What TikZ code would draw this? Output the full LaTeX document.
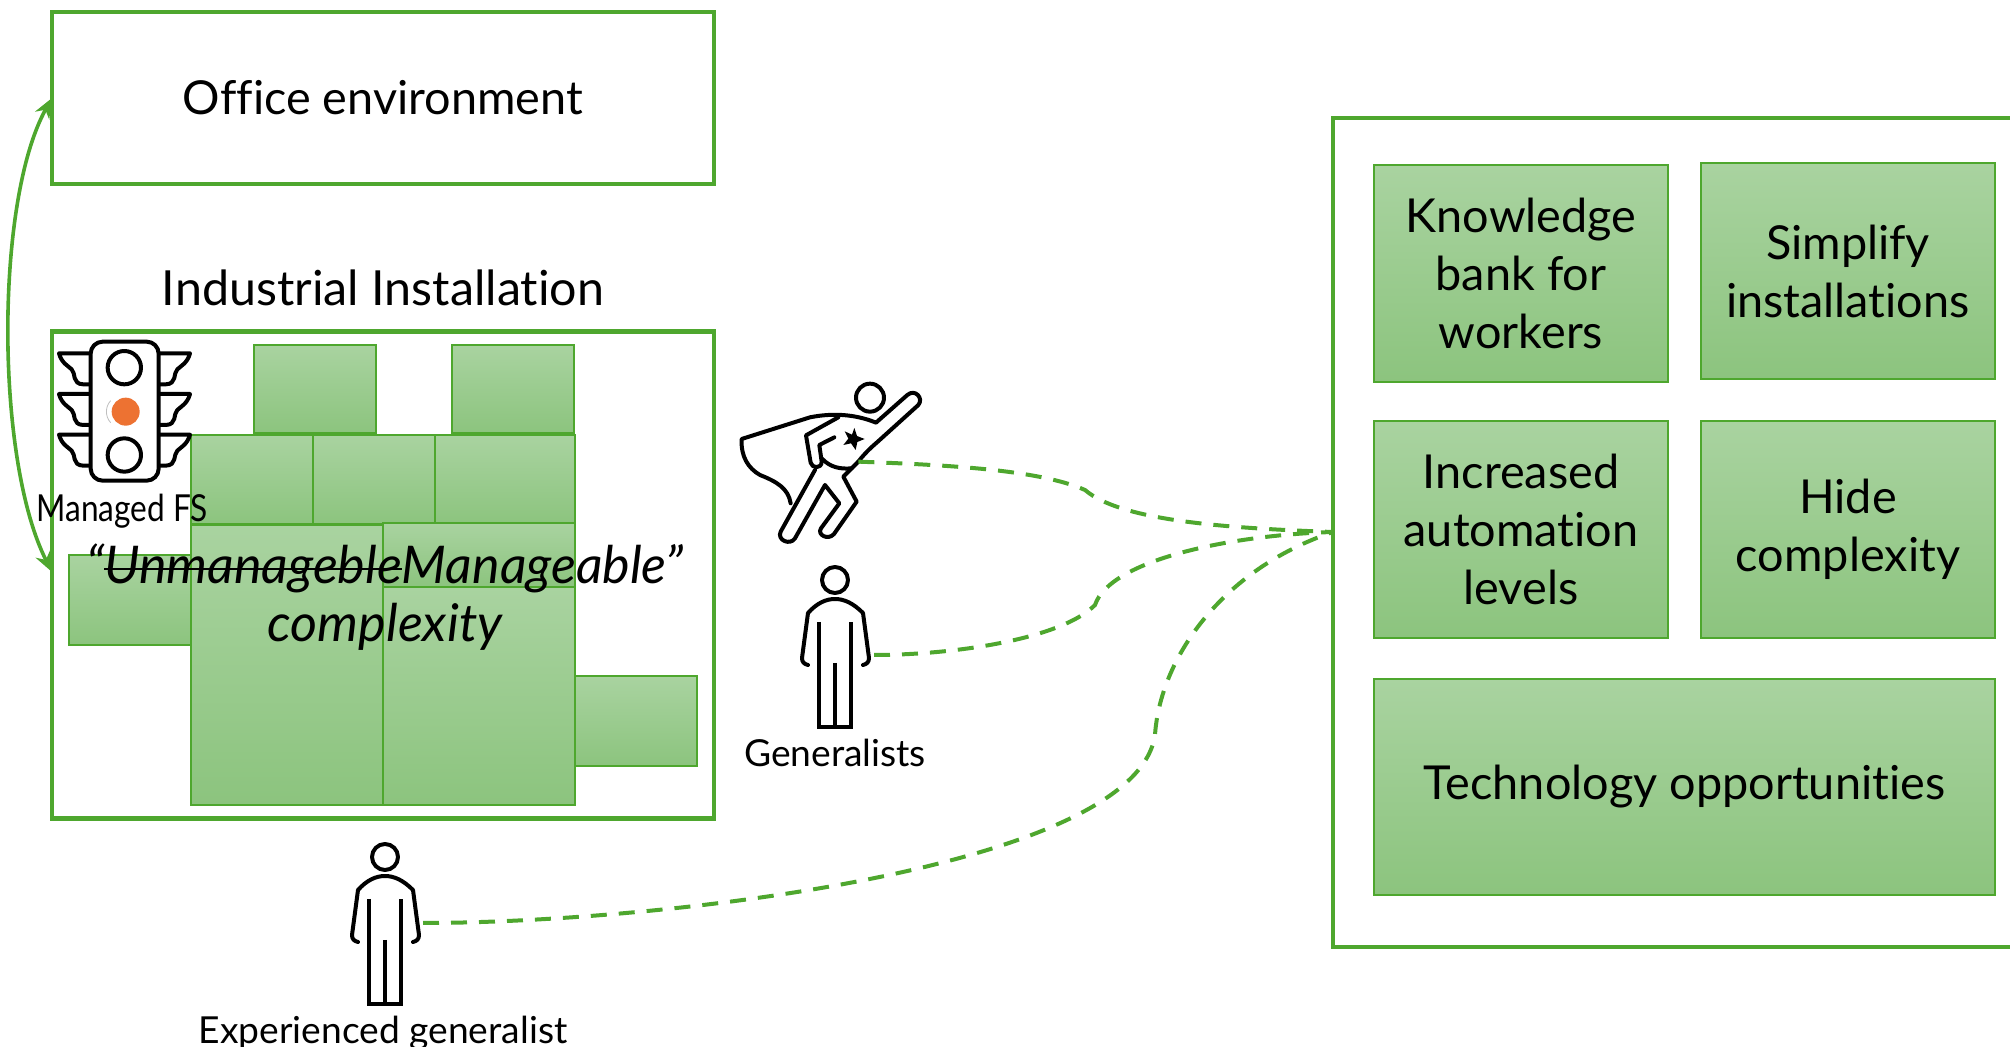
\documentclass[tikz,border=0pt]{standalone}
\usepackage{fontspec}
\setmainfont[Ligatures=NoCommon,Contextuals=NoAlternate]{Lato}
\usetikzlibrary{arrows.meta}
\definecolor{grn}{HTML}{4EA72E}
\definecolor{gtop}{HTML}{A9D3A0}
\definecolor{gbot}{HTML}{8CC47E}
\definecolor{org}{HTML}{ED7232}
\newsavebox\strkbox
\newcommand\strk[1]{\sbox\strkbox{#1}\rlap{\raisebox{0.26em}{\rule{\wd\strkbox}{0.8pt}}}\usebox\strkbox}
\tikzset{
 gbox/.style={draw=grn,line width=1.35pt,top color=gtop,bottom color=gbot,inner sep=0pt,outer sep=0pt,align=center,font=\fontsize{23.4}{29}\selectfont},
 frame/.style={draw=grn,line width=2.2pt,fill=white,inner sep=0pt,outer sep=0pt,align=center,font=\fontsize{23.4}{29}\selectfont},
 label/.style={inner sep=0pt,font=\fontsize{18.6}{22}\selectfont},
 title/.style={inner sep=0pt,font=\fontsize{24.2}{29}\selectfont},
 link/.style={draw=grn,line width=2pt,dash pattern=on 8pt off 6pt},
 ico/.style={draw=black,line width=2pt,line join=round,line cap=round}
}
\newcommand\gb[6]{\node[gbox,minimum width={(#4-#2)*0.5pt},minimum height={(#5-#3)*0.5pt}] (#1) at ({(#2+#4)/2},{(#3+#5)/2}) {#6};}
\newcommand\person[1]{\begin{scope}[shift={#1}]
 \draw[ico] (0,0) circle[radius=13];
 \draw[ico] (-33,78) -- (-27,33) .. controls (-18,23) and (-9,19) .. (0,19) .. controls (9,19) and (18,23) .. (28,33) -- (34,78) .. controls (34,82) and (32,84) .. (28,85);
 \draw[ico] (-33,78) .. controls (-33,82) and (-31,84) .. (-27,85);
 \draw[ico,line cap=butt,line join=miter] (-16,42) -- (-16,147) -- (16,147) -- (16,42);
 \draw[ico,line cap=butt] (0,83) -- (0,147);
\end{scope}}
\begin{document}
\begin{tikzpicture}[x=0.5pt,y=-0.5pt]
\useasboundingbox (0,0) rectangle (2010,1047);
\node[frame,minimum width=331pt,minimum height=86pt] (office) at (383,98) {Office environment};
\node[title] (indt) at (383,288) {Industrial Installation};
\node[frame,minimum width=331pt,minimum height=243.5pt] (inst) at (383,575) {};
\gb{a1}{254}{345}{376}{433}{}
\gb{a2}{452}{345}{574}{433}{}
\gb{b1}{191}{435}{313}{524}{}
\gb{b2}{313}{435}{435}{524}{}
\gb{b3}{435}{435}{575}{524}{}
\gb{c0}{69}{555}{191}{645}{}
\gb{c1}{191}{525}{383}{805}{}
\gb{c2}{383}{523}{575}{587}{}
\gb{c3}{383}{587}{575}{805}{}
\gb{c4}{575}{676}{697}{766}{}
% traffic light
\begin{scope}[shift={(40,330)},scale=1/3]
 \foreach \d in {0,122,244}{
  \draw[ico,line cap=butt] (152,70+\d) -- (57,70+\d) .. controls (65,100+\d) and (85,108+\d) .. (95,118+\d) .. controls (108,130+\d) and (95,162+\d) .. (130,163+\d) -- (152,163+\d);
  \draw[ico,line cap=butt] (356,70+\d) -- (450,70+\d) .. controls (442,100+\d) and (422,108+\d) .. (412,118+\d) .. controls (399,130+\d) and (412,162+\d) .. (377,163+\d) -- (356,163+\d);
 }
 \draw[ico,fill=white,rounded corners=6pt] (152,35) rectangle (356,452);
 \draw[ico] (253,113) circle[radius=50];
 \draw[ico] (253,375) circle[radius=50];
 \draw[black!25,line width=0.4pt] (212,212) .. controls (195,230) and (195,260) .. (212,278);
 \fill[org] (257,245) circle[radius=42];
\end{scope}
\node[label] (fs) at (122,511) {\scalebox{0.85}[1]{Managed FS}};
% hero
\begin{scope}[shift={(720,360)},scale=1/3]
 \draw[ico] (450,113) circle[radius=42];
 \draw[ico] (415,305) -- (370,350) -- (410,425) -- (342,522) .. controls (325,542) and (290,525) .. (303,505) -- (358,430) -- (315,375) -- (225,535) .. controls (210,558) and (170,540) .. (182,515) -- (285,330);
 \draw[ico] (415,305) .. controls (430,285) and (450,265) .. (470,248) -- (595,135) .. controls (612,115) and (585,85) .. (562,105) -- (468,188) .. controls (400,160) and (330,160) .. (270,172) -- (65,237) .. controls (62,290) and (85,325) .. (120,345) .. controls (170,365) and (205,385) .. (212,430);
 \draw[ico] (355,172) -- (258,226) -- (272,308) .. controls (275,325) and (305,328) .. (305,305) -- (298,255) -- (343,232);
 \draw[ico] (305,295) .. controls (330,322) and (360,328) .. (395,325);
 \fill[black] (403,204) -- (411,228) -- (434,237) -- (412,246) -- (407,270) -- (393,250) -- (370,255) -- (385,236) -- (374,214) -- (396,224) -- cycle;
 \coordinate (hero) at (415,305);
\end{scope}
\person{(835,580)}
\node[label] (gen) at (835,753) {Generalists};
\person{(385,857)}
\node[label] (exp) at (383,1033) {Experienced generalist};
\coordinate (g1) at (874,655);
\coordinate (g2) at (423,923);
% right
\draw[grn,line width=2.2pt] (2015,118) -- (1333,118) -- (1333,947) -- (2015,947);
\coordinate (hub) at (1333,532);
\gb{k}{1374}{165}{1668}{382}{Knowledge\\bank for\\workers}
\gb{s}{1701}{163}{1995}{379}{Simplify\\installations}
\gb{i}{1374}{421}{1668}{638}{Increased\\automation\\levels}
\gb{h}{1701}{421}{1995}{638}{\raisebox{-3pt}{Hide}\\\raisebox{-3pt}{complexity}}
\gb{t}{1374}{679}{1995}{895}{\raisebox{-2pt}{Technology opportunities}}
% links
\draw[link] (hero) .. controls (950,465) and (1040,470) .. (1085,490) .. controls (1120,520) and (1220,528) .. (hub);
\draw[link] (g1) .. controls (950,655) and (1060,640) .. (1095,605) .. controls (1110,560) and (1230,535) .. (hub);
\draw[link] (g2) .. controls (650,923) and (1135,870) .. (1155,735) .. controls (1160,660) and (1220,570) .. (hub);
\coordinate (oa) at (52,98);
\coordinate (ob) at (52,572);
\draw[grn,line width=1.8pt,{Stealth[length=10pt,width=8pt]}-{Stealth[length=10pt,width=8pt]}] (oa) .. controls (-5,200) and (-5,460) .. (ob);
\node[inner sep=0pt,align=center,font=\itshape\fontsize{26}{29}\selectfont] (um) at (385,597) {“\strk{Unmanageble}Manageable”\\complexity};
\end{tikzpicture}
\end{document}
